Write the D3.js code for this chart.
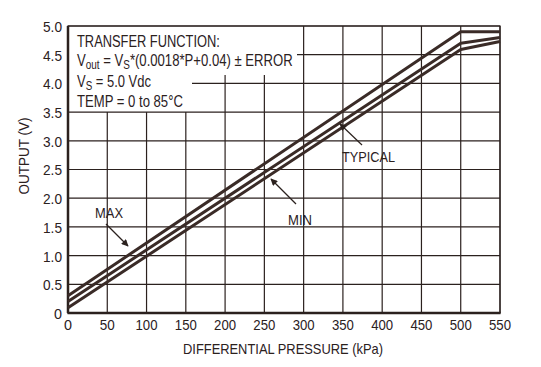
<!DOCTYPE html>
<html><head><meta charset="utf-8">
<script src="https://cdn.jsdelivr.net/npm/d3@7"></script>
<style>
html,body{margin:0;padding:0;background:#fff;}
text{font-family:"Liberation Sans",Arial,sans-serif;fill:#2b211e;}
</style></head><body>
<svg id="c" width="541" height="367"></svg>
<script>
const xTicks = [0,50,100,150,200,250,300,350,400,450,500,550];
const yTicks = [0,0.5,1.0,1.5,2.0,2.5,3.0,3.5,4.0,4.5,5.0];
const yTickLabels = ["0","0.5","1.0","1.5","2.0","2.5","3.0","3.5","4.0","4.5","5.0"];
const pressure = [0, 500, 550];
const maxOut = [0.30, 4.90, 4.90];
const typOut = [0.20, 4.70, 4.80];
const minOut = [0.09, 4.59, 4.73];
const xTitle = "DIFFERENTIAL PRESSURE (kPa)";
const yTitle = "OUTPUT (V)";

const ink = "#2b211e";
const svg = d3.select("#c");
const L=68, R=500, T=26, B=313;
const x = d3.scaleLinear().domain([0,550]).range([L,R]);
const y = d3.scaleLinear().domain([0,5]).range([B,T]);

// text box region (grid hidden behind it): upper part to x=297 down to y=75, lower part to x=192 down to 3.5 line
const boxUpperRight = 297, boxUpperBottom = 75, boxLowerRight = 192;
function vStart(px){ if(px < boxLowerRight) return y(3.5); if(px < boxUpperRight) return boxUpperBottom; return T; }
function hStart(py){ if(py < boxUpperBottom) return boxUpperRight; if(py < y(3.5)-1) return boxLowerRight; return L; }

// grid
const g = svg.append("g");
g.selectAll("line.v").data(xTicks).join("line").attr("class","v")
 .attr("x1",d=>x(d)).attr("x2",d=>x(d)).attr("y1",d=>d===0||d===550?T:vStart(x(d))).attr("y2",B)
 .attr("stroke",ink).attr("stroke-width",1.2);
g.selectAll("line.h").data(yTicks).join("line").attr("class","h")
 .attr("y1",d=>y(d)).attr("y2",d=>y(d)).attr("x1",d=>d===5||d===0?L:hStart(y(d))).attr("x2",R)
 .attr("stroke",ink).attr("stroke-width",1.2);

// info text, horizontally condensed
function infoLine(yy, targetW, build){
  const gg = svg.append("g");
  const t = gg.append("text").attr("x",0).attr("y",0).style("font-size","16.5px");
  build(t);
  const w = t.node().getBBox().width;
  gg.attr("transform",`translate(77,${yy}) scale(${targetW/w},1)`);
}
infoLine(46.7, 143, t=>t.text("TRANSFER FUNCTION:"));
infoLine(65.5, 216, t=>{
  t.append("tspan").text("V");
  t.append("tspan").attr("dy",3).style("font-size","12.5px").text("out");
  t.append("tspan").attr("dy",-3).text(" = V");
  t.append("tspan").attr("dy",3).style("font-size","12.5px").text("S");
  t.append("tspan").attr("dy",-3).text("*(0.0018*P+0.04) \u00B1 ERROR");
});
infoLine(86.5, 74, t=>{
  t.append("tspan").text("V");
  t.append("tspan").attr("dy",3).style("font-size","12.5px").text("S");
  t.append("tspan").attr("dy",-3).text(" = 5.0 Vdc");
});
infoLine(106.5, 106, t=>t.text("TEMP = 0 to 85\u00B0C"));

// frame
svg.append("rect").attr("x",L).attr("y",T).attr("width",R-L).attr("height",B-T)
 .attr("fill","none").attr("stroke",ink).attr("stroke-width",1.2);
svg.append("line").attr("x1",L-0.5).attr("x2",R+0.5).attr("y1",B).attr("y2",B).attr("stroke",ink).attr("stroke-width",2.5);
svg.append("line").attr("x1",L).attr("x2",L).attr("y1",T).attr("y2",B).attr("stroke",ink).attr("stroke-width",2.5);

// curves
const line = d3.line().x(d=>x(d[0])).y(d=>y(d[1]));
[maxOut,typOut,minOut].forEach(s=>{
  svg.append("path").attr("d",line(pressure.map((p,i)=>[p,s[i]])))
   .attr("fill","none").attr("stroke","#3a2b27").attr("stroke-width",3).attr("stroke-linejoin","round");
});

// axes labels
svg.selectAll("text.yt").data(yTicks).join("text").attr("class","yt")
 .attr("x",L-6).attr("y",d=>y(d)+1).attr("dy","0.35em").attr("text-anchor","end")
 .attr("textLength",(d,i)=>yTickLabels[i].length>1?19:8).attr("lengthAdjust","spacingAndGlyphs")
 .style("font-size","14px").text((d,i)=>yTickLabels[i]);
svg.selectAll("text.xt").data(xTicks).join("text").attr("class","xt")
 .attr("x",d=>x(d)).attr("y",330).attr("text-anchor","middle")
 .attr("textLength",d=>String(d).length===3?22:(String(d).length===2?15:8)).attr("lengthAdjust","spacingAndGlyphs")
 .style("font-size","14px").text(d=>d);
svg.append("text").attr("x",283).attr("y",353.5).attr("text-anchor","middle")
 .attr("textLength",200).attr("lengthAdjust","spacingAndGlyphs")
 .style("font-size","14.5px").text(xTitle);
svg.append("text").attr("transform",`translate(29,156) rotate(-90)`).attr("text-anchor","middle")
 .attr("textLength",77).attr("lengthAdjust","spacingAndGlyphs")
 .style("font-size","14.5px").text(yTitle);

// annotations
const defs = svg.append("defs");
defs.append("marker").attr("id","ah").attr("viewBox","0 0 10 10").attr("refX",9).attr("refY",5)
 .attr("markerWidth",9).attr("markerHeight",7).attr("markerUnits","userSpaceOnUse").attr("orient","auto")
 .append("path").attr("d","M0,0 L10,5 L0,10 z").attr("fill",ink);
const notes = [
  {label:"MAX", w:28, tx:109, ty:218, x1:106, y1:224, x2:128, y2:246},
  {label:"TYPICAL", w:53, tx:368.5, ty:162, x1:362, y1:145, x2:340, y2:124},
  {label:"MIN", w:24, tx:300, ty:225, x1:296, y1:204, x2:271, y2:179}
];
notes.forEach(n=>{
  svg.append("line").attr("x1",n.x1).attr("y1",n.y1).attr("x2",n.x2).attr("y2",n.y2)
   .attr("stroke",ink).attr("stroke-width",1.2).attr("marker-end","url(#ah)");
  svg.append("text").attr("x",n.tx).attr("y",n.ty).attr("text-anchor","middle")
   .attr("textLength",n.w).attr("lengthAdjust","spacingAndGlyphs")
   .style("font-size","15px").text(n.label);
});
</script></body></html>
